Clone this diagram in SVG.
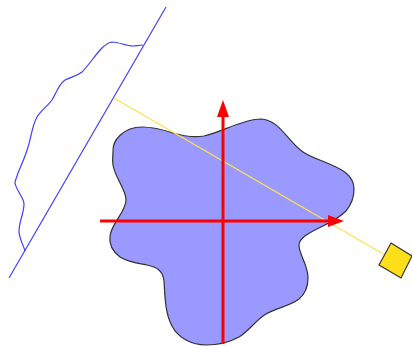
<svg xmlns="http://www.w3.org/2000/svg" width="412" height="347" viewBox="0 0 412 347">
<defs><style>
.axis{stroke:#ff0000;stroke-width:3;fill:none}
.head{fill:#ff0000}
.blue{stroke:#3f3fff;stroke-width:1.2;fill:none}
</style></defs>
<rect width="412" height="347" fill="#fff"/>
<g id="shape">
<path d="M113 152C112 140 124 127 142 127C155 127 164 130 173 133C183 136 192 138 204 136C222 132 243 119 261 119C280 120 287 141 303 152C315 160 335 164 346 173C352 178 354 183 354 189C354 198 351 205 346 211C339 218 331 222 323 226C313 231 299 237 299 245C299 255 308 264 308 278C308 288 305 294 299 299C290 306 276 308 266 314C256 320 249 331 239 337C230 342 218 345 206 345C192 345 178 338 172 326C165 313 165 297 164 281C163 271 157 267 147 265C136 263 128 262 120 257C112 251 109 244 110 236C112 222 126 212 126 200C126 189 115 178 113 165C112 160 113 156 113 152Z" fill="#9999ff" stroke="#333" stroke-width="1.2"/>
</g>
<g id="connectors">
<path class="blue" d="M166 7L9 278"/>
<path class="blue" d="M143 45C139 45 136 46 133 46C126 46 119 42 112 42C102 43 92 62 82 72C76 77 70 77 65 80C58 85 56 94 52 100C47 107 41 110 37 117C32 126 31 138 28 147C25 158 21 165 18 173C17 177 15 180 15 183C16 190 24 198 24 204C24 213 19 222 19 231C19 238 23 244 25 251"/>
<path d="M114 98L385 255" stroke="#ffe14d" stroke-width="1.3" fill="none"/>
<path class="axis" d="M223 344V110"/>
<path class="head" d="M223 100L229 117H217Z"/>
<path class="axis" d="M100 221H335"/>
<path class="head" d="M344 221L328 215V227Z"/>
</g>
<g id="sensor">
<path d="M391 243L412 256L401 278L379 265Z" fill="#ffdf1a" stroke="#333" stroke-width="1.2"/>
</g>
</svg>
